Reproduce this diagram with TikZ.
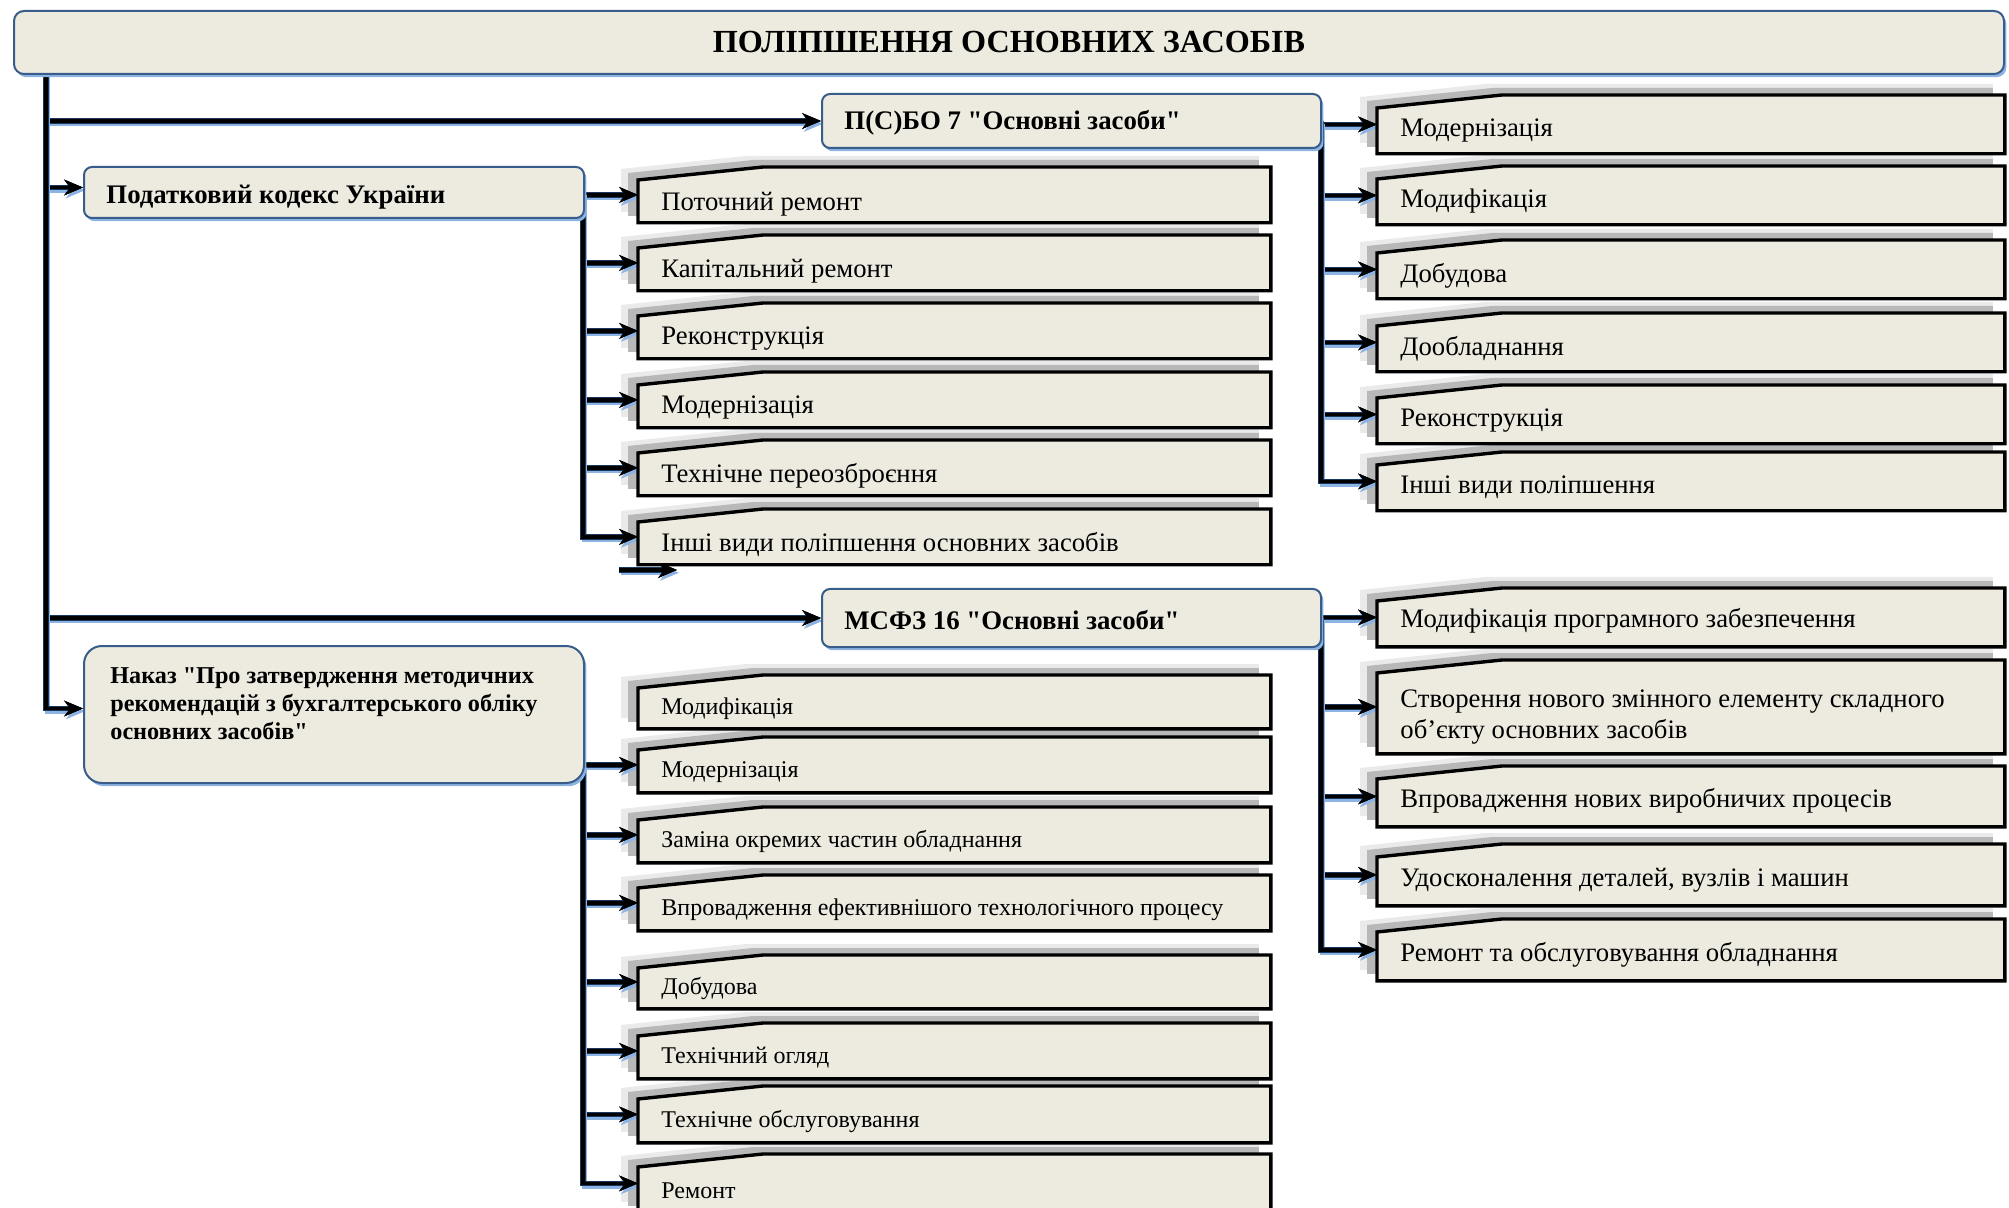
\documentclass[tikz,border=0pt]{standalone}
\usepackage{fontspec}
\setmainfont{Liberation Serif}[Ligatures=TeXOff]
\usetikzlibrary{arrows.meta,calc,shadows}
\pgfdeclarelayer{shadowlayer}
\pgfdeclarelayer{connlayer}
\pgfsetlayers{shadowlayer,connlayer,main}
\definecolor{boxfill}{RGB}{237,234,224}
\definecolor{dblue}{RGB}{56,93,138}
\definecolor{lblue}{RGB}{141,179,226}
\definecolor{navyc}{RGB}{23,55,94}
\definecolor{gdark}{RGB}{184,184,184}
\definecolor{glight}{RGB}{234,234,234}
\tikzset{
  rbox/.style={draw=dblue, line width=1pt, fill=boxfill, rounded corners=5pt, inner sep=0pt,
    anchor=north west, general shadow={fill=lblue, shadow xshift=1.2pt, shadow yshift=-1.6pt}},
  cnode/.style={inner sep=0pt, anchor=north west, minimum width=316pt, minimum height=27.5pt},
  cnodeR/.style={cnode, minimum width=313.5pt, minimum height=29pt},
  bevline/.style={draw=black, line width=1.7pt, fill=boxfill, line join=miter},
  ctext/.style={font=\fontsize{13.35}{15.5}\selectfont, inner sep=0pt, anchor=west, align=left},
  dtext/.style={font=\fontsize{12}{14}\selectfont, inner sep=0pt, anchor=west},
  btext/.style={font=\bfseries\fontsize{13.4}{16}\selectfont, inner sep=0pt, anchor=west},
  wire/.style={draw=black, line width=1.7pt, line join=miter,
    preaction={draw=lblue, line width=2.6pt, transform canvas={shift={(0.9pt,-1.4pt)}}},
    preaction={draw=navyc, line width=2.7pt}},
  link/.style={wire, ->},
}
\newcommand\bevbox[1]{%
  \begin{pgfonlayer}{shadowlayer}
    \fill[glight] ($(#1.north west)+(-17,2)$) -- ($(#1.north west)+(108,-11)$) -- ($(#1.north east)+(-12,-11)$) -- ($(#1.south east)+(-12,-11)$) -- ($(#1.south west)+(-17,-11)$) -- cycle;
    \fill[gdark] ($(#1.north west)+(-10,6)$) -- ($(#1.north west)+(115,-7)$) -- ($(#1.north east)+(-12,-7)$) -- ($(#1.south east)+(-12,-7)$) -- ($(#1.south west)+(-10,-7)$) -- cycle;
  \end{pgfonlayer}
  \draw[bevline] ($(#1.north west)+(0,13)$) -- ($(#1.north west)+(125,0)$) -- (#1.north east) -- (#1.south east) -- (#1.south west) -- cycle;
}
\begin{document}
\begin{tikzpicture}[x=0.5pt,y=-0.5pt, >={Stealth[length=9.5pt,width=8pt,line width=0.3pt]}]
\useasboundingbox (0,0) rectangle (2009,1208);

% rounded boxes
\node[rbox, minimum width=995pt, minimum height=31.5pt, font=\bfseries\fontsize{16.1}{18}\selectfont] (title) at (13,10) {ПОЛІПШЕННЯ ОСНОВНИХ ЗАСОБІВ};
\node[rbox, rounded corners=4pt, minimum width=249.5pt, minimum height=27pt] (ps) at (821,93) {};
\node[rbox, rounded corners=4pt, minimum width=250pt, minimum height=25.5pt] (pk) at (83,166) {};
\node[rbox, rounded corners=4pt, minimum width=249.5pt, minimum height=29pt] (ms) at (821,588) {};
\node[rbox, rounded corners=9pt, minimum width=250pt, minimum height=68.5pt] (nk) at (83,645) {};

\node[btext] (pst) at ($(ps.west)+(23,2)$) {П(С)БО 7 "Основні засоби"};
\node[btext] (pkt) at ($(pk.west)+(23,5)$) {Податковий кодекс України};
\node[btext] (mst) at ($(ms.west)+(23,2)$) {МСФЗ 16 "Основні засоби"};
\node[font=\bfseries\fontsize{12.1}{14}\selectfont, inner sep=0pt, anchor=north west, align=left] (nkt) at (110,667)
  {Наказ "Про затвердження методичних\\рекомендацій з бухгалтерського обліку\\основних засобів"};

% group A
\node[cnode] (a1) at (638,167) {};
\node[cnode] (a2) at (638,235) {};
\node[cnode] (a3) at (638,303) {};
\node[cnode] (a4) at (638,372) {};
\node[cnode] (a5) at (638,440) {};
\node[cnode] (a6) at (638,509) {};
% group B
\node[cnodeR] (b1) at (1377,95) {};
\node[cnodeR] (b2) at (1377,166) {};
\node[cnodeR] (b3) at (1377,240) {};
\node[cnodeR] (b4) at (1377,313) {};
\node[cnodeR] (b5) at (1377,385) {};
\node[cnodeR] (b6) at (1377,452) {};
% group C
\node[cnodeR] (c1) at (1377,588) {};
\node[cnodeR, minimum height=46.5pt] (c2) at (1377,660) {};
\node[cnodeR, minimum height=30pt] (c3) at (1377,766) {};
\node[cnodeR, minimum height=30.5pt] (c4) at (1377,844) {};
\node[cnodeR, minimum height=30.5pt] (c5) at (1377,919) {};
% group D
\node[cnode, minimum height=26.5pt] (d1) at (638,675) {};
\node[cnode] (d2) at (638,737) {};
\node[cnode] (d3) at (638,807) {};
\node[cnode] (d4) at (638,875) {};
\node[cnode, minimum height=26.5pt] (d5) at (638,955) {};
\node[cnode] (d6) at (638,1023) {};
\node[cnode, minimum height=28pt] (d7) at (638,1086) {};
\node[cnode, minimum height=29pt] (d8) at (638,1154) {};

\foreach \n in {a1,a2,a3,a4,a5,a6,b1,b2,b3,b4,b5,b6,c1,c2,c3,c4,c5,d1,d2,d3,d4,d5,d6,d7,d8} {\bevbox{\n}}

% texts
\node[ctext] (a1t) at ($(a1.west)+(23,9)$) {Поточний ремонт};
\node[ctext] (a2t) at ($(a2.west)+(23,8)$) {Капітальний ремонт};
\node[ctext] (a3t) at ($(a3.west)+(23,8)$) {Реконструкція};
\node[ctext] (a4t) at ($(a4.west)+(23,8)$) {Модернізація};
\node[ctext] (a5t) at ($(a5.west)+(23,8)$) {Технічне переозброєння};
\node[ctext] (a6t) at ($(a6.west)+(23,8)$) {Інші види поліпшення основних засобів};

\node[ctext] (b1t) at ($(b1.west)+(23,6)$) {Модернізація};
\node[ctext] (b2t) at ($(b2.west)+(23,6)$) {Модифікація};
\node[ctext] (b3t) at ($(b3.west)+(23,6)$) {Добудова};
\node[ctext] (b4t) at ($(b4.west)+(23,6)$) {Дообладнання};
\node[ctext] (b5t) at ($(b5.west)+(23,6)$) {Реконструкція};
\node[ctext] (b6t) at ($(b6.west)+(23,6)$) {Інші види поліпшення};

\node[ctext] (c1t) at ($(c1.west)+(23,3)$) {Модифікація програмного забезпечення};
\node[ctext] (c2t) at ($(c2.west)+(23,10)$) {Створення нового змінного елементу складного\\об’єкту основних засобів};
\node[ctext] (c3t) at ($(c3.west)+(23,4)$) {Впровадження нових виробничих процесів};
\node[ctext] (c4t) at ($(c4.west)+(23,5)$) {Удосконалення деталей, вузлів і машин};
\node[ctext] (c5t) at ($(c5.west)+(23,5)$) {Ремонт та обслуговування обладнання};

\node[dtext] (d1t) at ($(d1.west)+(23,7)$) {Модифікація};
\node[dtext] (d2t) at ($(d2.west)+(23,7)$) {Модернізація};
\node[dtext] (d3t) at ($(d3.west)+(23,7)$) {Заміна окремих частин обладнання};
\node[dtext] (d4t) at ($(d4.west)+(23,7)$) {Впровадження ефективнішого технологічного процесу};
\node[dtext] (d5t) at ($(d5.west)+(23,7)$) {Добудова};
\node[dtext] (d6t) at ($(d6.west)+(23,7)$) {Технічний огляд};
\node[dtext] (d7t) at ($(d7.west)+(23,7)$) {Технічне обслуговування};
\node[dtext] (d8t) at ($(d8.west)+(23,7)$) {Ремонт};

% connectors
\coordinate (trunk) at ($(title.south west)+(33,-2)$);
\coordinate (sa) at (619,570);
\coordinate (sb) at (677,570);
\begin{pgfonlayer}{connlayer}
  \draw[link] (trunk) |- (ps.west);
  \draw[link] (trunk) |- ($(pk.west)+(0,-5)$);
  \draw[link] (trunk) |- (ms.west);
  \draw[link] (trunk) |- ($(nk.west)+(0,-6)$);
  \foreach \n in {a1,a2,a3,a4,a5,a6} {\draw[link] ($(pk.east)+(-2,0)$) |- (\n.west);}
  \foreach \n in {b1,b2,b3,b4,b5,b6} {\draw[link] ($(ps.east)+(-1,0)$) |- (\n.west);}
  \foreach \n in {c1,c2,c3,c4,c5} {\draw[link] ($(ms.east)+(-1,0)$) |- (\n.west);}
  \foreach \n in {d2,d3,d4,d5,d6,d7,d8} {\draw[link] ($(nk.east |- d2.west)+(-2,0)$) |- (\n.west);}
  \draw[link] (sa) -- (sb);
\end{pgfonlayer}
\end{tikzpicture}
\end{document}
